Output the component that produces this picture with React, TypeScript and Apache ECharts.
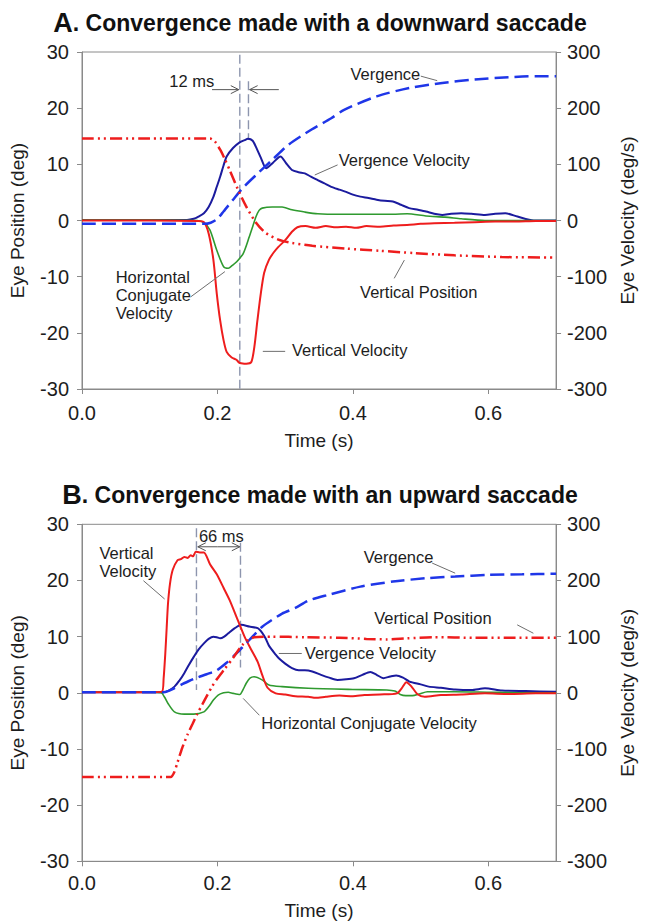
import React, { useEffect, useRef } from "react";
import * as echarts from "echarts";

const FONT = '"Liberation Sans", Arial, Helvetica, sans-serif';
const INK = "#1d1d1d";
const AXIS_GREY = "#8a8a8a";
const LEADER_GREY = "#6e6e6e";
const RED = "#ee1d1d";
const NAVY = "#1b1b9e";
const BLUE = "#1f36e8";
const GREEN = "#2f9a2f";
const GUIDE = "#8d95ae";

// ---------- Panel A: convergence with a downward saccade ----------
// positions in deg (left axis)
const A_VERT_POS_T = [0, 0.1, 0.189, 0.196, 0.204, 0.211, 0.218, 0.23, 0.242, 0.257, 0.271, 0.29, 0.31, 0.34, 0.39, 0.44, 0.49, 0.55, 0.62, 0.7];
const A_VERT_POS = [14.6, 14.6, 14.6, 14.1, 12.6, 10.9, 9.0, 5.6, 2.6, -0.4, -2.2, -3.4, -4.0, -4.5, -5.0, -5.4, -5.8, -6.2, -6.5, -6.6];

const A_VERGENCE_T = [0, 0.1, 0.18, 0.19, 0.199, 0.209, 0.223, 0.2375, 0.257, 0.281, 0.305, 0.339, 0.368, 0.387, 0.435, 0.4835, 0.532, 0.58, 0.63, 0.67, 0.7];
const A_VERGENCE = [-0.6, -0.6, -0.6, -0.4, 0.2, 1.6, 3.7, 5.8, 8.1, 10.8, 13.5, 16.2, 18.2, 19.7, 22.1, 23.6, 24.5, 25.1, 25.5, 25.7, 25.7];

// velocities in deg/s (right axis)
const A_VERG_VEL_T = [0, 0.1, 0.155, 0.165, 0.172, 0.18, 0.187, 0.194, 0.199, 0.204, 0.209, 0.2136, 0.223, 0.2328, 0.24, 0.245, 0.252, 0.258, 0.264, 0.272, 0.282, 0.293, 0.302, 0.31, 0.32, 0.329, 0.338, 0.348, 0.358, 0.368, 0.38, 0.39, 0.4, 0.411, 0.423, 0.435, 0.447, 0.459, 0.471, 0.483, 0.496, 0.508, 0.52, 0.532, 0.545, 0.56, 0.575, 0.595, 0.61, 0.625, 0.643, 0.667, 0.685, 0.7];
const A_VERG_VEL = [1, 1, 1, 3, 7, 13, 24, 42, 60, 78, 98, 114, 129, 139, 143, 145.5, 142, 128, 112, 93, 103, 114, 101, 90, 86, 84, 78, 72, 66, 60, 55, 51, 46, 42.5, 40, 37, 35, 34, 28, 22, 19, 16, 12, 10, 12, 13, 12, 10, 12, 13, 7, 0, 0, 0];

const A_HCONJ_VEL_T = [0, 0.1, 0.17, 0.18, 0.189, 0.199, 0.209, 0.216, 0.222, 0.228, 0.238, 0.247, 0.252, 0.257, 0.2615, 0.266, 0.281, 0.2955, 0.31, 0.329, 0.348, 0.38, 0.42, 0.459, 0.48, 0.508, 0.536, 0.56, 0.595, 0.65, 0.7];
const A_HCONJ_VEL = [1, 1, 0, -4, -17, -53, -82, -85, -80, -74, -59, -29, -11, 7, 18, 22, 24, 24, 19, 15, 12, 11, 11, 11, 12, 8, 6, 3, 0, 0, 0];

const A_VERT_VEL_T = [0, 0.1, 0.172, 0.18, 0.187, 0.194, 0.199, 0.204, 0.209, 0.2136, 0.221, 0.228, 0.232, 0.235, 0.2425, 0.25, 0.2545, 0.259, 0.264, 0.269, 0.276, 0.283, 0.29, 0.3, 0.31, 0.318, 0.33, 0.345, 0.36, 0.375, 0.39, 0.405, 0.42, 0.44, 0.46, 0.48, 0.5, 0.52, 0.55, 0.58, 0.61, 0.64, 0.67, 0.7];
const A_VERT_VEL = [0, 0, -1, -3, -23, -70, -130, -178, -213, -234, -244, -248, -253, -254, -255, -252, -225, -178, -130, -93, -70, -57, -47, -35, -20, -12, -10, -13, -10, -12, -11, -13, -10, -11, -9, -8, -6, -5, -4, -3, -2, -2, -1, -1];

// ---------- Panel B: convergence with an upward saccade ----------
const B_VERT_POS_T = [0, 0.1, 0.131, 0.136, 0.141, 0.148, 0.156, 0.163, 0.17, 0.178, 0.185, 0.192, 0.199, 0.211, 0.223, 0.2375, 0.2545, 0.28, 0.33, 0.38, 0.42, 0.45, 0.48, 0.52, 0.58, 0.64, 0.7];
const B_VERT_POS = [-15, -15, -15, -14.2, -12.4, -9.8, -7.4, -5.6, -3.8, -2.0, -0.4, 1.1, 2.4, 4.3, 6.2, 8.6, 9.9, 10.0, 9.9, 9.8, 9.6, 9.5, 9.7, 9.9, 9.8, 9.8, 9.8];

const B_VERGENCE_T = [0, 0.1, 0.12, 0.127, 0.136, 0.146, 0.158, 0.17, 0.184, 0.199, 0.213, 0.228, 0.247, 0.2666, 0.2955, 0.315, 0.334, 0.3624, 0.411, 0.459, 0.5075, 0.551, 0.6, 0.65, 0.7];
const B_VERGENCE = [0.1, 0.1, 0.1, 0.3, 0.8, 1.4, 2.1, 2.7, 3.3, 4.0, 5.3, 7.0, 9.4, 11.8, 14.1, 15.1, 16.4, 17.4, 18.9, 19.8, 20.4, 20.7, 21.0, 21.1, 21.2];

const B_VERG_VEL_T = [0, 0.1, 0.12, 0.128, 0.1365, 0.144, 0.151, 0.158, 0.165, 0.172, 0.18, 0.187, 0.194, 0.199, 0.204, 0.21, 0.216, 0.2256, 0.2353, 0.247, 0.2594, 0.2666, 0.271, 0.276, 0.286, 0.291, 0.3, 0.31, 0.32, 0.329, 0.34, 0.353, 0.365, 0.377, 0.39, 0.4016, 0.414, 0.4257, 0.435, 0.445, 0.455, 0.464, 0.474, 0.4835, 0.5, 0.512, 0.53, 0.551, 0.575, 0.595, 0.62, 0.655, 0.7];
const B_VERG_VEL = [1, 1, 1, 4, 11, 22, 35, 50, 64, 77, 88, 96, 100, 99, 97, 100, 106, 115, 121, 118, 115, 106, 97, 84, 68, 61, 52, 44, 40, 40, 38, 32, 27, 23, 24, 26, 32, 37, 32, 26, 29, 31, 27, 20, 15, 11, 9, 6, 5, 8, 4, 3, 2];

const B_HCONJ_VEL_T = [0, 0.1, 0.117, 0.122, 0.127, 0.1365, 0.151, 0.165, 0.18, 0.187, 0.194, 0.201, 0.209, 0.216, 0.223, 0.233, 0.238, 0.2425, 0.248, 0.254, 0.2666, 0.276, 0.2955, 0.334, 0.4, 0.45, 0.462, 0.47, 0.478, 0.488, 0.498, 0.51, 0.55, 0.6, 0.65, 0.7];
const B_HCONJ_VEL = [1, 1, 0, -8, -19, -34, -38, -38, -34, -25, -13, -4, 0, 1, -1, -3, 6, 17, 26, 28.5, 22.6, 14, 11, 8, 6, 5, 3, -3, -5, -5, -2, 2, 2, 1, 0, 0];

const B_VERT_VEL_T = [0, 0.1, 0.118, 0.1205, 0.123, 0.125, 0.127, 0.13, 0.134, 0.141, 0.146, 0.151, 0.156, 0.1605, 0.164, 0.168, 0.174, 0.18, 0.189, 0.199, 0.209, 0.218, 0.2305, 0.24, 0.2497, 0.2594, 0.2666, 0.274, 0.286, 0.3, 0.315, 0.334, 0.345, 0.36, 0.38, 0.4, 0.417, 0.44, 0.465, 0.472, 0.479, 0.486, 0.495, 0.506, 0.53, 0.56, 0.595, 0.63, 0.67, 0.7];
const B_VERT_VEL = [1, 1, 2, 25, 70, 115, 159, 195, 219, 236, 238, 242, 240, 245, 243, 251, 250, 250, 229, 211, 187, 165, 128, 100, 77, 55, 30, 9, -1, -3, -6, -7, -9, -7, -5, -6, -4, -3, -1, 8, 19, 12, -2, -7, -4, -3, -1, -2, -1, -1];

// ---------- Annotations (data coordinates: time, position deg) ----------
type Note = { text: string; t: number; v: number };
type Seg = [number, number, number, number];

const A_NOTES: Note[] = [
  { text: "12 ms", t: 0.129, v: 24.9 },
  { text: "Vergence", t: 0.3965, v: 26.0 },
  { text: "Vergence Velocity", t: 0.379, v: 10.8 },
  { text: "Vertical Position", t: 0.4106, v: -12.8 },
  { text: "Horizontal", t: 0.0497, v: -10.0 },
  { text: "Conjugate", t: 0.0497, v: -13.3 },
  { text: "Velocity", t: 0.0497, v: -16.5 },
  { text: "Vertical Velocity", t: 0.3099, v: -23.1 },
];
const A_LEADERS: Seg[] = [
  [0.5003, 25.7, 0.5245, 24.9],
  [0.3774, 9.9, 0.3437, 8.1],
  [0.461, -10.3, 0.476, -7.05],
  [0.1605, -13.6, 0.211, -9.1],
  [0.267, -23.3, 0.3, -23.3],
];
const A_GUIDES: Seg[] = [
  [0.233, 29.5, 0.233, -30],
  [0.2458, 24.8, 0.2458, 14.4],
];
// [from t, to t, level]; head at the "to" end
const A_ARROWS: [number, number, number][] = [
  [0.192, 0.2315, 23.3],
  [0.2906, 0.2475, 23.3],
];

const B_NOTES: Note[] = [
  { text: "66 ms", t: 0.1726, v: 28.0 },
  { text: "Vertical", t: 0.0257, v: 24.85 },
  { text: "Velocity", t: 0.0257, v: 21.7 },
  { text: "Vergence", t: 0.416, v: 24.1 },
  { text: "Vertical Position", t: 0.4315, v: 13.3 },
  { text: "Vergence Velocity", t: 0.329, v: 7.0 },
  { text: "Horizontal Conjugate Velocity", t: 0.2648, v: -5.45 },
];
const B_LEADERS: Seg[] = [
  [0.0907, 19.96, 0.122, 16.7],
  [0.517, 23.1, 0.551, 21.3],
  [0.6426, 12.1, 0.6665, 10.6],
  [0.2906, 7.0, 0.3245, 7.0],
  [0.238, -1.0, 0.2619, -4.0],
];
const B_GUIDES: Seg[] = [
  [0.169, 29.3, 0.169, 0.5],
  [0.234, 26.7, 0.234, 4.5],
];
const B_ARROWS: [number, number, number][] = [
  [0.2, 0.171, 26.0],
  [0.2, 0.233, 26.0],
];

const TITLES = [
  "{a|A}. Convergence made with a downward saccade",
  "{a|B}. Convergence made with an upward saccade",
];

const zip = (t: number[], v: number[]) => t.map((x, i) => [x, v[i]]);

function lineSeries(
  name: string,
  t: number[],
  v: number[],
  panel: number,
  onVelocityAxis: boolean,
  color: string,
  width: number,
  dash: "solid" | number[]
) {
  return {
    name,
    type: "line",
    xAxisIndex: panel,
    yAxisIndex: panel * 2 + (onVelocityAxis ? 1 : 0),
    data: zip(t, v),
    showSymbol: false,
    symbol: "none",
    smooth: 0.25,
    lineStyle: { color, width, type: dash, cap: "butt" },
    z: onVelocityAxis ? 3 : 4,
  };
}

const DASH_DOT_DOT = [12, 4, 2, 4, 2, 4];
const DASHED = [14, 6];

function xAxis(grid: number, nameGap: number, labelMargin: number) {
  return {
    type: "value",
    gridIndex: grid,
    min: 0,
    max: 0.7,
    interval: 0.2,
    name: "Time (s)",
    nameLocation: "middle",
    nameGap,
    nameTextStyle: { fontFamily: FONT, fontSize: 19, color: INK },
    axisLine: { show: true, onZero: false, lineStyle: { color: AXIS_GREY, width: 1 } },
    axisTick: { show: true, length: 5, lineStyle: { color: AXIS_GREY } },
    axisLabel: {
      fontFamily: FONT,
      fontSize: 20,
      color: INK,
      margin: labelMargin,
      showMaxLabel: false,
      formatter: (val: number) => val.toFixed(1),
    },
    splitLine: { show: false },
  };
}

function yAxis(grid: number, right: boolean) {
  return {
    type: "value",
    gridIndex: grid,
    position: right ? "right" : "left",
    min: right ? -300 : -30,
    max: right ? 300 : 30,
    interval: right ? 100 : 10,
    name: right ? "Eye Velocity (deg/s)" : "Eye Position (deg)",
    nameLocation: "middle",
    nameGap: right ? 58 : 55,
    nameTextStyle: { fontFamily: FONT, fontSize: 19, color: INK },
    axisLine: { show: true, onZero: false, lineStyle: { color: AXIS_GREY, width: 1 } },
    axisTick: { show: true, length: 5, lineStyle: { color: AXIS_GREY } },
    axisLabel: { fontFamily: FONT, fontSize: 20, color: INK, margin: right ? 11 : 13 },
    splitLine: { show: false },
  };
}

export default function App() {
  const ref = useRef<HTMLDivElement>(null);

  useEffect(() => {
    if (!ref.current) return;
    const chart = echarts.init(ref.current, null, { renderer: "svg" });

    const gridBase = { left: 82, width: 484.5, height: 337, show: true, borderColor: AXIS_GREY, borderWidth: 1, backgroundColor: "transparent" };

    chart.setOption({
      animation: false,
      backgroundColor: "#ffffff",
      grid: [
        { ...gridBase, top: 52 },
        { ...gridBase, top: 524.3 },
      ],
      xAxis: [xAxis(0, 42, 14), xAxis(1, 40, 12)],
      yAxis: [yAxis(0, false), yAxis(0, true), yAxis(1, false), yAxis(1, true)],
      series: [
        lineSeries("Vergence", A_VERGENCE_T, A_VERGENCE, 0, false, BLUE, 2.5, DASHED),
        lineSeries("Vertical Position", A_VERT_POS_T, A_VERT_POS, 0, false, RED, 2.5, DASH_DOT_DOT),
        lineSeries("Vergence Velocity", A_VERG_VEL_T, A_VERG_VEL, 0, true, NAVY, 2, "solid"),
        lineSeries("Horizontal Conjugate Velocity", A_HCONJ_VEL_T, A_HCONJ_VEL, 0, true, GREEN, 1.6, "solid"),
        lineSeries("Vertical Velocity", A_VERT_VEL_T, A_VERT_VEL, 0, true, RED, 2, "solid"),
        lineSeries("Vergence", B_VERGENCE_T, B_VERGENCE, 1, false, BLUE, 2.5, DASHED),
        lineSeries("Vertical Position", B_VERT_POS_T, B_VERT_POS, 1, false, RED, 2.5, DASH_DOT_DOT),
        lineSeries("Vergence Velocity", B_VERG_VEL_T, B_VERG_VEL, 1, true, NAVY, 2, "solid"),
        lineSeries("Horizontal Conjugate Velocity", B_HCONJ_VEL_T, B_HCONJ_VEL, 1, true, GREEN, 1.6, "solid"),
        lineSeries("Vertical Velocity", B_VERT_VEL_T, B_VERT_VEL, 1, true, RED, 2, "solid"),
      ],
    });

    const toPx = (panel: number, t: number, v: number) =>
      chart.convertToPixel({ xAxisIndex: panel, yAxisIndex: panel * 2 }, [t, v]) as number[];

    const elements: any[] = [];

    TITLES.forEach((title, i) => {
      elements.push({
        type: "text",
        x: 320,
        y: i === 0 ? 23 : 495,
        z: 20,
        style: {
          text: title,
          fill: "#111111",
          fontFamily: FONT,
          fontSize: 23,
          fontWeight: "bold",
          textAlign: "center",
          textVerticalAlign: "middle",
          rich: { a: { fontFamily: FONT, fontSize: 27, fontWeight: "bold", fill: "#111111" } },
        },
      });
    });

    const addPanel = (
      panel: number,
      notes: Note[],
      leaders: Seg[],
      guides: Seg[],
      arrows: [number, number, number][]
    ) => {
      guides.forEach(([t1, v1, t2, v2]) => {
        const [x1, y1] = toPx(panel, t1, v1);
        const [x2, y2] = toPx(panel, t2, v2);
        elements.push({
          type: "line",
          z: 1,
          shape: { x1, y1, x2, y2 },
          style: { stroke: GUIDE, lineWidth: 1.4, lineDash: [9, 4] },
        });
      });
      leaders.forEach(([t1, v1, t2, v2]) => {
        const [x1, y1] = toPx(panel, t1, v1);
        const [x2, y2] = toPx(panel, t2, v2);
        elements.push({
          type: "line",
          z: 10,
          shape: { x1, y1, x2, y2 },
          style: { stroke: LEADER_GREY, lineWidth: 1 },
        });
      });
      arrows.forEach(([from, to, level]) => {
        const [x1, y] = toPx(panel, from, level);
        const [x2] = toPx(panel, to, level);
        const d = x2 > x1 ? 1 : -1;
        elements.push({
          type: "line",
          z: 10,
          shape: { x1, y1: y, x2, y2: y },
          style: { stroke: "#555555", lineWidth: 1 },
        });
        elements.push({
          type: "polyline",
          z: 10,
          shape: { points: [[x2 - d * 8, y - 4], [x2, y], [x2 - d * 8, y + 4]] },
          style: { stroke: "#555555", lineWidth: 1, fill: null },
        });
      });
      notes.forEach((n) => {
        const [x, y] = toPx(panel, n.t, n.v);
        elements.push({
          type: "text",
          x,
          y,
          z: 20,
          style: {
            text: n.text,
            fill: INK,
            fontFamily: FONT,
            fontSize: 16.5,
            textAlign: "left",
            textVerticalAlign: "middle",
          },
        });
      });
    };

    addPanel(0, A_NOTES, A_LEADERS, A_GUIDES, A_ARROWS);
    addPanel(1, B_NOTES, B_LEADERS, B_GUIDES, B_ARROWS);

    chart.setOption({ graphic: { elements } });

    return () => chart.dispose();
  }, []);

  return (
    <div
      ref={ref}
      style={{ position: "absolute", left: 0, top: 0, width: 645, height: 922, background: "#fff" }}
    />
  );
}
